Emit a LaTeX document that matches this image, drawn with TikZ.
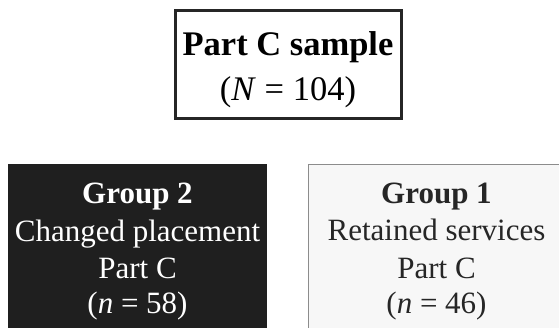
\documentclass[tikz,border=0pt]{standalone}
\usepackage{fontspec}
\setmainfont{Liberation Serif}
\begin{document}
\begin{tikzpicture}[x=1pt,y=-1pt,
  big/.style={font=\fontsize{34.5}{40}\selectfont, inner sep=0pt, anchor=base},
  grp/.style={font=\fontsize{31}{36}\selectfont, inner sep=0pt, anchor=base}]
\useasboundingbox (0,0) rectangle (559,327);
\clip (0,0) rectangle (559,327);
\fill[white] (0,0) rectangle (559,327);
% top box
\node[draw=black!85, line width=3pt, fill=white, minimum width=226pt, minimum height=108pt, inner sep=0pt] (top) at (288,64) {};
\node[big] (t1) at (288,55) {\bfseries Part C sample};
\node[big] (t2) at (288,100) {(\textit{N} = 104)};
% group 2
\node[fill=black!88, minimum width=259pt, minimum height=171pt, inner sep=0pt] (g2) at (137.5,249.5) {};
\node[grp, text=white] (g2a) at (137.5,203) {\bfseries Group 2};
\node[grp, text=white] (g2b) at (137.5,241) {Changed placement};
\node[grp, text=white] (g2c) at (137.5,278) {Part C};
\node[grp, text=white] (g2d) at (137.5,313) {(\textit{n} = 58)};
% group 1
\node[draw=black!45, line width=1pt, fill=black!3, minimum width=257pt, minimum height=171pt, inner sep=0pt] (g1) at (436.5,249.5) {};
\node[grp, text=black!85] (g1a) at (436.5,203) {\bfseries Group 1};
\node[grp, text=black!85] (g1b) at (436.5,240) {Retained services};
\node[grp, text=black!85] (g1c) at (436.5,278) {Part C};
\node[grp, text=black!85] (g1d) at (436.5,313) {(\textit{n} = 46)};
\end{tikzpicture}
\end{document}
